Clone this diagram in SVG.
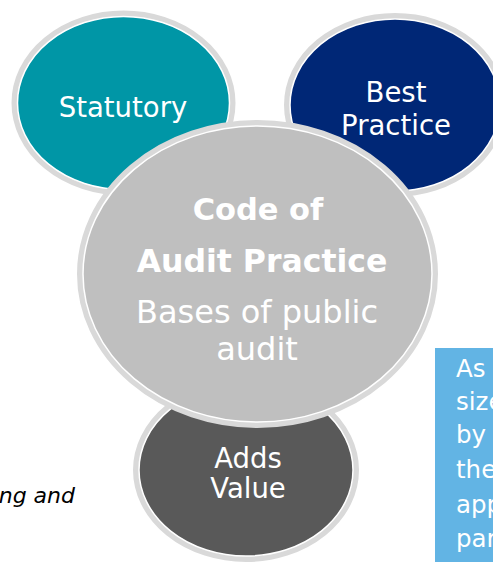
<svg xmlns="http://www.w3.org/2000/svg" width="493" height="562" viewBox="0 0 493 562">
<style>
.ring{stroke:#d9d9d9;stroke-width:6}
.inner{fill:none;stroke:#ffffff;stroke-width:1.5}
.lbl{font-family:"DejaVu Sans",Verdana,sans-serif;fill:#ffffff;text-anchor:middle}
.box{font-family:"DejaVu Sans",Verdana,sans-serif;fill:#ffffff;font-size:24.5px}
</style>
<rect width="493" height="562" fill="#ffffff"/>
<g id="note-left">
<text x="75" y="503" font-family="DejaVu Sans, Verdana, sans-serif" font-style="italic" font-size="22" fill="#000000" text-anchor="end">ng and</text>
</g>
<g id="note-right">
<rect x="435" y="348" width="60" height="216" fill="#62b4e4"/>
<text class="box" x="456" y="377">As</text>
<text class="box" x="456" y="410">size</text>
<text class="box" x="456" y="443">by</text>
<text class="box" x="456" y="478">the</text>
<text class="box" x="456" y="513">app</text>
<text class="box" x="456" y="547">par</text>
</g>
<g id="statutory">
<ellipse cx="123.5" cy="103" rx="109" ry="89.5" fill="#0096a6" class="ring"/>
<ellipse cx="123.5" cy="103" rx="106" ry="86.5" class="inner"/>
<text class="lbl" x="123" y="117" font-size="27.5">Statutory</text>
</g>
<g id="best-practice">
<ellipse cx="395" cy="105" rx="108" ry="89" fill="#002776" class="ring"/>
<ellipse cx="395" cy="105" rx="105" ry="86" class="inner"/>
<text class="lbl" x="396" y="102" font-size="27.5">Best</text>
<text class="lbl" x="396" y="135" font-size="27.5">Practice</text>
</g>
<g id="adds-value">
<ellipse cx="246" cy="470" rx="110" ry="89" fill="#595959" class="ring"/>
<ellipse cx="246" cy="470" rx="107" ry="86" class="inner"/>
<text class="lbl" x="248" y="468" font-size="27.5">Adds</text>
<text class="lbl" x="248" y="498" font-size="27.5">Value</text>
</g>
<g id="code-of-audit-practice">
<ellipse cx="257.5" cy="274" rx="177.5" ry="151" fill="#bfbfbf" class="ring"/>
<ellipse cx="257.5" cy="274" rx="174.5" ry="148" class="inner"/>
<text class="lbl" x="258" y="220" font-size="30.5" font-weight="bold">Code of</text>
<text class="lbl" x="262" y="272" font-size="31.5" font-weight="bold">Audit Practice</text>
<text class="lbl" x="257" y="323" font-size="32" fill="#f2f2f2">Bases of public</text>
<text class="lbl" x="257" y="360" font-size="32" fill="#f2f2f2">audit</text>
</g>
<g id="connectors"></g>
</svg>
